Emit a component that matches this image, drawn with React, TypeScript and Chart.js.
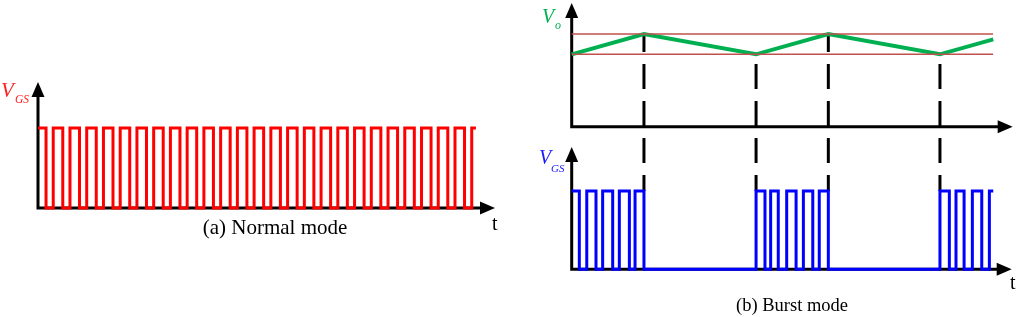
import React, { useEffect, useRef } from "react";
import { Chart, registerables } from "chart.js";

Chart.register(...registerables);

// ---------- (a) Normal mode : gate-source drive (time in tenths of a switching period) ----------
const normalFall = [4.8, 14.8, 24.8, 34.8, 44.8, 54.8, 64.8, 74.8, 84.8, 94.8, 104.8, 114.8, 124.8, 134.8, 144.8, 154.8, 164.8, 174.8, 184.8, 194.8, 204.8, 214.8, 224.8, 234.8, 244.8, 254.8];
const normalRise = [9.1, 19.1, 29.1, 39.1, 49.1, 59.1, 69.1, 79.1, 89.1, 99.1, 109.1, 119.1, 129.1, 139.1, 149.1, 159.1, 169.1, 179.1, 189.1, 199.1, 209.1, 219.1, 229.1, 239.1, 249.1, 259.1];
const normalEnd = 261.6;
const gsHigh = 1;

// ---------- (b) Burst mode ----------
const burstFall = [4.7, 15.0, 25.3, 35.6, 44.6, 119.3, 127.5, 138.5, 148.8, 158.4, 233.1, 242.2, 253.1];
const burstRise = [9.3, 19.1, 29.4, 39.1, 113.8, 122.8, 132.7, 143.0, 152.8, 227.3, 237.2, 247.3, 257.8];
const burstEnd = 260.2;

const voTime = [0, 44.6, 113.8, 158.4, 227.3, 260.2];
const voValue = [1, 1.28, 1, 1.28, 1, 1.207];
const voLower = 1;
const voUpper = 1.28;
const bandEnd = 260.1;
const burstEdges = [44.6, 113.8, 158.4, 227.3];

function pulseTrain(fall: number[], rise: number[], end: number, high: number) {
  const ev = [
    ...fall.map((t) => ({ x: t, y: 0 })),
    ...rise.map((t) => ({ x: t, y: high })),
  ].sort((a, b) => a.x - b.x);
  return [{ x: 0, y: high }, ...ev, { x: end, y: high }];
}

function drawAxes(ctx: CanvasRenderingContext2D, ox: number, oy: number, topY: number, rightX: number) {
  const L = 15;
  const W = 6.5;
  ctx.save();
  ctx.strokeStyle = "#000";
  ctx.fillStyle = "#000";
  ctx.lineWidth = 3;
  ctx.lineJoin = "miter";
  ctx.setLineDash([]);
  ctx.beginPath();
  ctx.moveTo(ox, topY + L - 1);
  ctx.lineTo(ox, oy);
  ctx.lineTo(rightX - L + 1, oy);
  ctx.stroke();
  ctx.beginPath();
  ctx.moveTo(ox, topY);
  ctx.lineTo(ox - W, topY + L);
  ctx.lineTo(ox + W, topY + L);
  ctx.closePath();
  ctx.fill();
  ctx.beginPath();
  ctx.moveTo(rightX, oy);
  ctx.lineTo(rightX - L, oy - W);
  ctx.lineTo(rightX - L, oy + W);
  ctx.closePath();
  ctx.fill();
  ctx.restore();
}

const baseOpts = {
  animation: false as const,
  responsive: false,
  maintainAspectRatio: false,
  events: [] as any[],
  plugins: { legend: { display: false }, tooltip: { enabled: false }, title: { display: false } },
  elements: { point: { radius: 0 }, line: { tension: 0 } },
};

export default function App() {
  const leftRef = useRef<HTMLCanvasElement>(null);
  const rightRef = useRef<HTMLCanvasElement>(null);

  useEffect(() => {
    const axesLeft = {
      id: "axesLeft",
      beforeDatasetsDraw(chart: any) {
        const { ctx, scales } = chart;
        const x = scales.x;
        const y = scales.y;
        drawAxes(ctx, x.getPixelForValue(0), y.getPixelForValue(0), y.getPixelForValue(y.max), x.getPixelForValue(x.max));
      },
    };
    const left = new Chart(leftRef.current!, {
      type: "line",
      data: {
        datasets: [
          {
            data: pulseTrain(normalFall, normalRise, normalEnd, gsHigh),
            borderColor: "#ff0000",
            borderWidth: 3,
            stepped: true,
            fill: false,
            clip: false as any,
          },
        ],
      },
      options: {
        ...baseOpts,
        layout: { padding: { left: 38, right: 25, top: 82, bottom: 109 } },
        scales: {
          x: { type: "linear", min: 0, max: 273.0, display: false },
          y: { type: "linear", min: 0, max: 1.575, display: false },
        },
      } as any,
      plugins: [axesLeft],
    });

    const axesRight = {
      id: "axesRight",
      beforeDatasetsDraw(chart: any) {
        const { ctx, scales } = chart;
        const x = scales.x;
        const yVo = scales.yVo;
        const yGS = scales.yGS;
        const ox = x.getPixelForValue(0);
        const rx = x.getPixelForValue(x.max);
        drawAxes(ctx, ox, yVo.getPixelForValue(0), yVo.getPixelForValue(yVo.max), rx);
        drawAxes(ctx, ox, yGS.getPixelForValue(0), yGS.getPixelForValue(1.562), rx - 1);
        // dashed burst-edge markers
        ctx.save();
        ctx.strokeStyle = "#000";
        ctx.lineWidth = 3;
        ctx.setLineDash([25, 12]);
        const ref = yVo.getPixelForValue(voUpper) - 7;
        burstEdges.forEach((t) => {
          const i = voTime.indexOf(t);
          const y0 = yVo.getPixelForValue(voValue[i]);
          const y1 = yGS.getPixelForValue(gsHigh);
          const px = x.getPixelForValue(t);
          ctx.lineDashOffset = (((y0 - ref) % 37) + 37) % 37;
          ctx.beginPath();
          ctx.moveTo(px, y0);
          ctx.lineTo(px, y1);
          ctx.stroke();
        });
        ctx.restore();
      },
    };

    const right = new Chart(rightRef.current!, {
      type: "line",
      data: {
        datasets: [
          {
            data: [{ x: 0, y: voUpper }, { x: bandEnd, y: voUpper }],
            borderColor: "#c0504d",
            borderWidth: 1.5,
            yAxisID: "yVo",
            clip: false as any,
          },
          {
            data: [{ x: 0, y: voLower }, { x: bandEnd, y: voLower }],
            borderColor: "#c0504d",
            borderWidth: 1.5,
            yAxisID: "yVo",
            clip: false as any,
          },
          {
            data: voTime.map((t, i) => ({ x: t, y: voValue[i] })),
            borderColor: "#00b050",
            borderWidth: 4,
            yAxisID: "yVo",
            clip: false as any,
          },
          {
            data: pulseTrain(burstFall, burstRise, burstEnd, gsHigh),
            borderColor: "#0000ff",
            borderWidth: 3,
            stepped: true,
            yAxisID: "yGS",
            clip: false as any,
          },
        ],
      },
      options: {
        ...baseOpts,
        layout: { padding: { left: 51.7, right: 11.3, top: 3, bottom: 47.7 } },
        scales: {
          x: { type: "linear", min: 0, max: 272.2, display: false },
          yVo: { type: "linear", position: "left", min: -1.97, max: 1.709, display: false },
          yGS: { type: "linear", position: "left", min: 0, max: 3.4, display: false },
        },
      } as any,
      plugins: [axesRight],
    });

    return () => {
      left.destroy();
      right.destroy();
    };
  }, []);

  const serif = "'Liberation Serif', 'Times New Roman', serif";
  const txt = (s: React.CSSProperties): React.CSSProperties => ({
    position: "absolute",
    fontFamily: serif,
    lineHeight: 1,
    whiteSpace: "nowrap",
    ...s,
  });

  return (
    <div style={{ position: "fixed", left: 0, top: 0, width: 1024, height: 317, background: "#fff", overflow: "hidden" }}>
      <canvas ref={leftRef} width={520} height={317} style={{ position: "absolute", left: 0, top: 0, width: 520, height: 317 }} />
      <canvas ref={rightRef} width={504} height={317} style={{ position: "absolute", left: 520, top: 0, width: 504, height: 317 }} />

      <span style={txt({ left: 1, top: 80, fontSize: 21, fontStyle: "italic", color: "#ff2020" })}>V</span>
      <span style={txt({ left: 15, top: 93.5, fontSize: 11.5, fontStyle: "italic", color: "#ff2020" })}>GS</span>
      <span style={txt({ left: 492, top: 213, fontSize: 20, color: "#000" })}>t</span>
      <div style={txt({ left: 175, width: 200, top: 217, fontSize: 21, color: "#000", textAlign: "center" })}>(a) Normal mode</div>

      <span style={txt({ left: 542, top: 5.5, fontSize: 20, fontStyle: "italic", color: "#00b050" })}>V</span>
      <span style={txt({ left: 555, top: 18.5, fontSize: 12, fontStyle: "italic", color: "#00b050" })}>o</span>
      <span style={txt({ left: 539, top: 147, fontSize: 20, fontStyle: "italic", color: "#1a1aff" })}>V</span>
      <span style={txt({ left: 551, top: 162.5, fontSize: 11, fontStyle: "italic", color: "#1a1aff" })}>GS</span>
      <span style={txt({ left: 1010, top: 272, fontSize: 20, color: "#000" })}>t</span>
      <div style={txt({ left: 692, width: 200, top: 296, fontSize: 18.5, color: "#000", textAlign: "center" })}>(b) Burst mode</div>
    </div>
  );
}
